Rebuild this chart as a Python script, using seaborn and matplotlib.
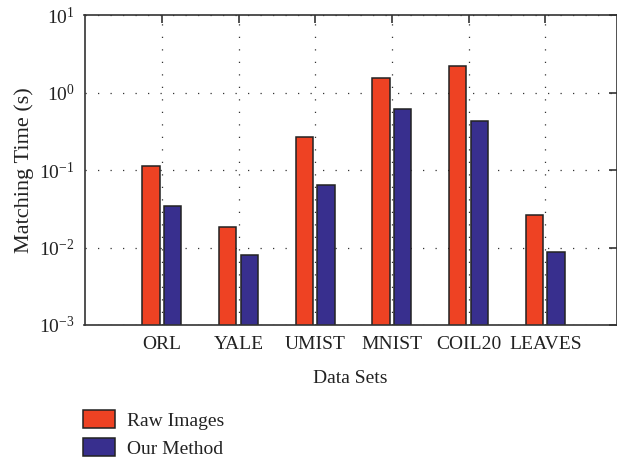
import numpy as np
import pandas as pd
import matplotlib
matplotlib.use("Agg")
import matplotlib.pyplot as plt
import seaborn as sns
from matplotlib.ticker import NullLocator, LogLocator

# ---- data ----
datasets = ["ORL", "YALE", "UMIST", "MNIST", "COIL20", "LEAVES"]
raw_images = [0.113, 0.0184, 0.269, 1.52, 2.18, 0.0262]
our_method = [0.034, 0.0079, 0.064, 0.607, 0.43, 0.0087]
series_names = ["Raw Images", "Our Method"]
colors = ["#EE4223", "#382F8E"]

df = pd.DataFrame({
    "Data Sets": datasets * 2,
    "Time": raw_images + our_method,
    "Method": [series_names[0]] * len(datasets) + [series_names[1]] * len(datasets),
})

sns.set_theme(style="white")
plt.rcParams["font.family"] = ["Liberation Serif", "DejaVu Serif"]
plt.rcParams["mathtext.fontset"] = "custom"
plt.rcParams["mathtext.rm"] = "Liberation Serif"
plt.rcParams["mathtext.it"] = "Liberation Serif:italic"
plt.rcParams["mathtext.bf"] = "Liberation Serif:bold"

fig = plt.figure(figsize=(6.17, 4.59), dpi=100)
ax = fig.add_axes([84.5 / 617, 1 - 325 / 459, (616.5 - 84.5) / 617, (325 - 15) / 459])

sns.barplot(data=df, x="Data Sets", y="Time", hue="Method", hue_order=series_names,
            palette=colors, width=0.566, gap=0.2, edgecolor="#222222", linewidth=1.1,
            saturation=1, errorbar=None, ax=ax, legend=True)

ax.set_yscale("log")
ax.set_ylim(1e-3, 10)
ax.set_xlim(-1.01, 5.93)
ax.yaxis.set_major_locator(LogLocator(base=10, numticks=10))
ax.yaxis.set_minor_locator(NullLocator())

ax.set_axisbelow(True)
ax.grid(True, which="major", axis="both", linestyle=(0, (1, 9)), color="#333333", linewidth=0.9)

for s in ax.spines.values():
    s.set_visible(True)
    s.set_color("#333333")
    s.set_linewidth(1.2)

ax.tick_params(axis="both", which="major", direction="in", top=True, right=True,
               length=5.5, width=1.2, color="#333333", labelsize=14, labelcolor="#222222")
ax.tick_params(axis="x", pad=8)
ax.tick_params(axis="y", pad=7)

ax.set_xlabel("Data Sets", fontsize=14, color="#222222", labelpad=12)
ax.set_ylabel("Matching Time (s)", fontsize=16, color="#222222", labelpad=4)

handles, labels = ax.get_legend_handles_labels()
ax.get_legend().remove()
fig.legend(handles, labels, loc="upper left", bbox_to_anchor=(83 / 617, 1 - 410 / 459),
           frameon=False, fontsize=14, handlelength=1.65, handleheight=1.05,
           handletextpad=0.62, labelspacing=0.45, borderpad=0, borderaxespad=0,
           labelcolor="#222222")

fig.savefig("out.png", dpi=100)
